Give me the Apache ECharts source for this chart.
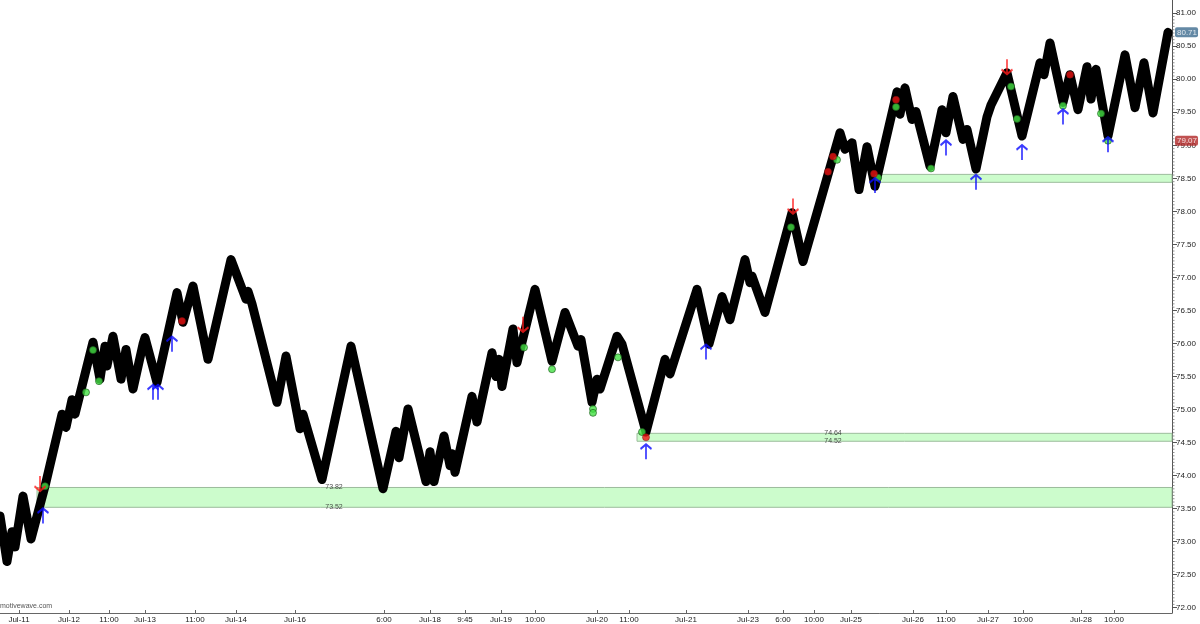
<!DOCTYPE html>
<html>
<head>
<meta charset="utf-8">
<script src="https://cdn.jsdelivr.net/npm/echarts@6/dist/echarts.min.js"></script>
<style>
html,body{margin:0;padding:0;background:#fff;}
#c{width:1200px;height:624px;}
</style>
</head>
<body>
<div id="c"></div>
<script>
// ---- data (bar index, price) ----
const barIdx = [0,7,12,15,23,31,45,62,66,72,75,93,100,105,107,113,121,126,133,143,145,157,177,183,193,208,231,246,248,252,277,286,295,300,303,322,351,383,396,399,408,426,430,434,444,450,452,455,472,477,492,496,499,502,513,517,535,552,565,578,581,592,597,600,617,622,646,665,670,697,709,722,730,745,750,752,765,792,803,840,845,852,859,867,875,897,900,905,912,916,930,942,946,953,963,967,976,987,991,1007,1022,1040,1044,1050,1063,1070,1078,1087,1091,1096,1108,1125,1135,1144,1153,1168];
const price  = [73.39,72.70,73.15,72.92,73.69,73.04,73.84,74.93,74.73,75.15,74.93,76.02,75.46,75.96,75.66,76.11,75.46,75.91,75.31,75.99,76.09,75.41,76.77,76.32,76.87,75.76,77.27,76.67,76.79,76.60,75.11,75.81,75.11,74.71,74.93,73.94,75.96,73.80,74.67,74.27,75.01,73.91,74.36,73.91,74.60,74.15,74.33,74.05,75.20,74.81,75.86,75.50,75.76,75.35,76.22,75.71,76.82,75.73,76.47,75.96,76.06,75.11,75.46,75.31,76.11,75.99,74.66,75.76,75.54,76.82,75.99,76.71,76.36,77.27,76.92,77.02,76.47,77.98,77.24,79.19,78.94,79.04,78.33,78.98,78.38,79.81,79.47,79.87,79.39,79.51,78.68,79.54,79.19,79.74,79.09,79.24,78.64,79.43,79.61,80.10,79.14,80.25,80.07,80.55,79.65,80.07,79.54,80.19,79.70,80.15,79.14,80.37,79.57,80.25,79.49,80.71];

const greenDots = [[45,73.84],[86,75.26],[93,75.90],[99,75.43],[524,75.94],[552,75.61],[593,75.01],[593,74.95],[618,75.79],[642,74.66],[791,77.76],[837,78.78],[878,78.51],[896,79.58],[931,78.65],[1011,79.89],[1017,79.40],[1063,79.60],[1101,79.48],[1108,79.07]];
const redDots = [[182,76.34],[646,74.58],[828,78.60],[833,78.83],[874,78.57],[896,79.69],[1070,80.07]];
const downArrows = [[40,73.88],[523,76.29],[793,78.08],[1007,80.19]];
const upArrows = [[43,73.39],[153,75.26],[158,75.26],[172,75.99],[646,74.36],[706,75.87],[875,78.39],[946,78.96],[976,78.44],[1022,78.89],[1063,79.43],[1108,79.01]];

// zones: [startBar, low, high]
const zoneStart = [37,637,875];
const zoneLow   = [73.52,74.52,78.44];
const zoneHigh  = [73.82,74.64,78.56];
const zoneLabelBar = [334,833];

const lastPrice = 80.71;
const markPrice = 79.07;

const xTickBars  = [19,69,109,145,195,236,295,384,430,465,501,535,597,629,686,748,783,814,851,913,946,988,1023,1081,1114];
const xTickTexts = ['Jul-11','Jul-12','11:00','Jul-13','11:00','Jul-14','Jul-16','6:00','Jul-18','9:45','Jul-19','10:00','Jul-20','11:00','Jul-21','Jul-23','6:00','10:00','Jul-25','Jul-26','11:00','Jul-27','10:00','Jul-28','10:00'];
const yTicks = [72,72.5,73,73.5,74,74.5,75,75.5,76,76.5,77,77.5,78,78.5,79,79.5,80,80.5,81];

// ---- build ----
const X_MAX = 1172, Y_MIN = 71.92, Y_MAX = 81.20;
const lineData = barIdx.map((b,i)=>[b,price[i]]);
const minorTickData = [];
for (let i=0;i<=180;i++){ const v=+(72+i*0.05).toFixed(2); if (i%10!==0) minorTickData.push([X_MAX,v]); }
const xLabelMap = {};
xTickBars.forEach((b,i)=>{xLabelMap[b]=xTickTexts[i];});

const markAreaData = zoneStart.map((s,i)=>[{xAxis:s,yAxis:zoneLow[i]},{xAxis:X_MAX,yAxis:zoneHigh[i]}]);
const zoneLabels = [];
zoneLabelBar.forEach((b,i)=>{
  zoneLabels.push([b,zoneHigh[i]]);
  zoneLabels.push([b,zoneLow[i]]);
});

const upPath = 'path://M5,0 L5,16 M0,5 L5,0 L10,5';
const downPath = 'path://M5,16 L5,0 M0,11 L5,16 L10,11';
const FONT = 'Liberation Sans, Arial, sans-serif';

const chart = echarts.init(document.getElementById('c'), null, {renderer:'canvas'});
chart.setOption({
  animation:false,
  backgroundColor:'#ffffff',
  grid:{left:0,right:28,top:0,bottom:10,containLabel:false},
  xAxis:{
    type:'value',min:0,max:X_MAX,
    axisLine:{show:true,onZero:false,lineStyle:{color:'#666',width:1}},
    axisTick:{show:true,customValues:xTickBars,length:3,inside:true,lineStyle:{color:'#666'}},
    axisLabel:{show:true,customValues:xTickBars,formatter:v=>xLabelMap[v]||'',fontSize:8,color:'#222',margin:3,fontFamily:FONT},
    splitLine:{show:false}
  },
  yAxis:{
    type:'value',position:'right',min:Y_MIN,max:Y_MAX,
    axisLine:{show:true,onZero:false,lineStyle:{color:'#555',width:1}},
    axisTick:{show:true,customValues:yTicks,length:5,lineStyle:{color:'#555'}},
    axisLabel:{show:true,customValues:yTicks,formatter:v=>v.toFixed(2),fontSize:8,color:'#222',margin:4,fontFamily:FONT},
    splitLine:{show:false}
  },
  series:[
    {
      type:'line',data:[],silent:true,z:1,
      markArea:{silent:true,itemStyle:{color:'#ccfccc',borderColor:'#9cbc9c',borderWidth:1},data:markAreaData}
    },
    {
      type:'line',data:lineData,showSymbol:false,z:3,
      lineStyle:{color:'#000',width:9,join:'round',cap:'round'},
      clip:false
    },
    {
      type:'scatter',data:zoneLabels,symbolSize:0,z:4,silent:true,
      label:{show:true,position:'inside',formatter:p=>p.value[1].toFixed(2),fontSize:7,color:'#222',fontFamily:FONT}
    },
    {
      type:'scatter',data:minorTickData,symbol:'rect',symbolSize:[2,1],symbolOffset:[1.5,0],clip:false,z:2,silent:true,
      itemStyle:{color:'#777'}
    },
    {
      type:'scatter',data:greenDots,symbol:'circle',symbolSize:7,z:6,
      itemStyle:{color:'#44e044',borderColor:'#1a5a1a',borderWidth:0.8}
    },
    {
      type:'scatter',data:redDots,symbol:'circle',symbolSize:7,z:6,
      itemStyle:{color:'#ee1111',borderColor:'#7a1010',borderWidth:0.6}
    },
    {
      type:'scatter',data:downArrows,symbol:downPath,symbolSize:[11,15],z:7,
      itemStyle:{color:'rgba(0,0,0,0)',borderColor:'#ff1a1a',borderWidth:2}
    },
    {
      type:'scatter',data:upArrows,symbol:upPath,symbolSize:[11,15],z:7,
      itemStyle:{color:'rgba(0,0,0,0)',borderColor:'#0a0aff',borderWidth:2}
    },
    {
      type:'scatter',data:[[X_MAX,lastPrice]],symbolSize:0,clip:false,z:10,silent:true,
      label:{show:true,position:'right',distance:3,formatter:p=>p.value[1].toFixed(2),fontSize:8,color:'#fff',
        backgroundColor:'#3d6b8e',padding:[1,1,1,2],borderRadius:2,fontFamily:FONT}
    },
    {
      type:'scatter',data:[[X_MAX,markPrice]],symbolSize:0,clip:false,z:10,silent:true,
      label:{show:true,position:'right',distance:3,formatter:p=>p.value[1].toFixed(2),fontSize:8,color:'#fff',
        backgroundColor:'#b02626',padding:[1,1,1,2],borderRadius:2,fontFamily:FONT}
    }
  ],
  graphic:[{type:'text',left:0,top:603,style:{text:'motivewave.com',fontSize:7,fill:'#555',fontFamily:FONT}}]
});
</script>
</body>
</html>
